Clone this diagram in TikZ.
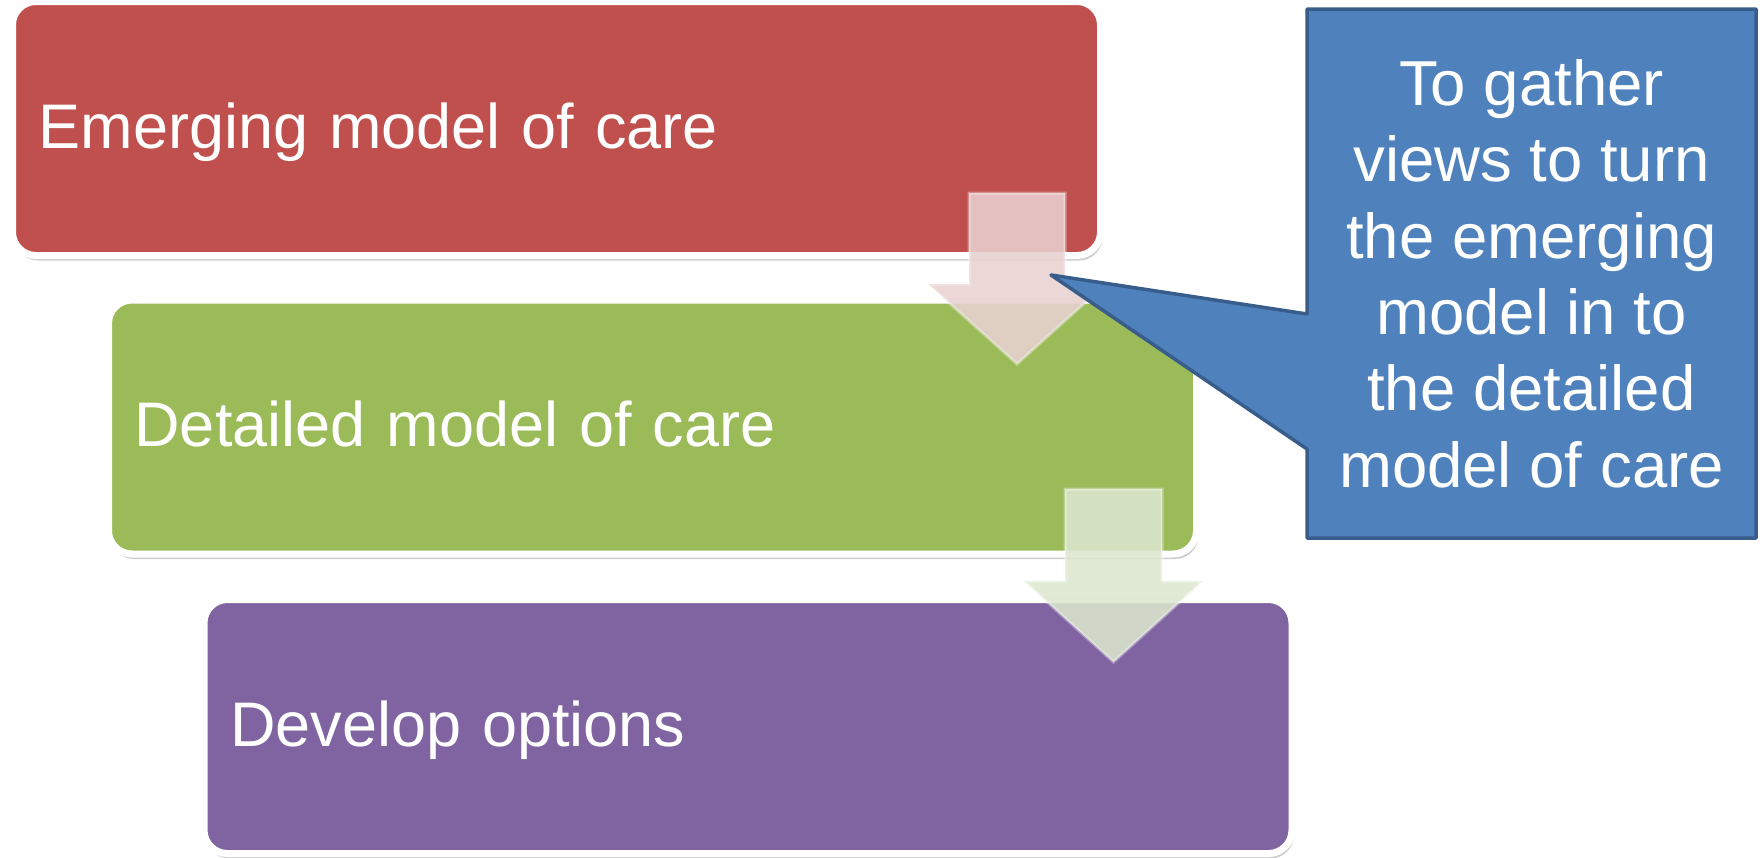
\documentclass[tikz,border=0pt]{standalone}
\usepackage{fontspec}
\setmainfont{Liberation Sans}
\usetikzlibrary{shadows}
\definecolor{boxred}{HTML}{C0504D}
\definecolor{boxgreen}{HTML}{9BBB59}
\definecolor{boxpurple}{HTML}{8064A2}
\definecolor{calloutfill}{HTML}{4F81BD}
\definecolor{calloutline}{HTML}{385D8A}
\definecolor{arrowpink}{RGB}{233,209,209}
\definecolor{arrowgreen}{RGB}{220,231,207}
\tikzset{
  stepbox/.style={rectangle, rounded corners=23.5pt, draw=white, line width=7pt,
    minimum width=1088pt, minimum height=254pt, text width=1036pt, inner xsep=26pt,
    text height=53pt, text depth=13.2pt,
    align=left, text=white, font=\fontsize{63}{76}\selectfont,
    drop shadow={shadow xshift=2pt, shadow yshift=-5pt, fill=black, opacity=0.2}},
  flowarrow/.style={line width=3pt, line join=miter, fill opacity=0.88, draw opacity=0.35, draw=white},
  notebox/.style={rectangle, minimum width=449pt, minimum height=529pt, align=center,
    text=white, font=\fontsize{63.5}{76.4}\selectfont},
  noteshape/.style={fill=calloutfill, draw=calloutline, line width=3.5pt, line join=round}
}
\begin{document}
\begin{tikzpicture}[x=1pt,y=-1pt]
\useasboundingbox (0,0) rectangle (1762,857);
% boxes
\node[stepbox, fill=boxred] (emerging) at (556.5,128.5) {Emerging model of care};
\node[stepbox, fill=boxgreen] (detailed) at (652.5,427) {Detailed model of care};
\node[stepbox, fill=boxpurple] (develop) at (748,726.5) {Develop options};
% arrows
\path[flowarrow, fill=arrowpink]
  (969,193) -- (1065,193) -- (1065,284) -- (1106,284) -- (1017,364) -- (928,284) -- (969,284) -- cycle;
\path[flowarrow, fill=arrowgreen]
  (1065,489) -- (1162,489) -- (1162,581) -- (1203,581) -- (1113.5,662) -- (1024,581) -- (1065,581) -- cycle;
% callout
\coordinate (tip) at (1051,275);
\coordinate (cnw) at (1307,9);
\coordinate (cne) at (1756,9);
\coordinate (cse) at (1756,538);
\coordinate (csw) at (1307,538);
\coordinate (cjb) at (1307,449);
\coordinate (cjt) at (1307,314);
\path[noteshape] (cnw) -- (cne) -- (cse) -- (csw) -- (cjb) -- (tip) -- (cjt) -- cycle;
\node[notebox] (note) at (1531.5,273.5) {To gather\\views to turn\\the emerging\\model in to\\the detailed\\model of care};
\end{tikzpicture}
\end{document}
